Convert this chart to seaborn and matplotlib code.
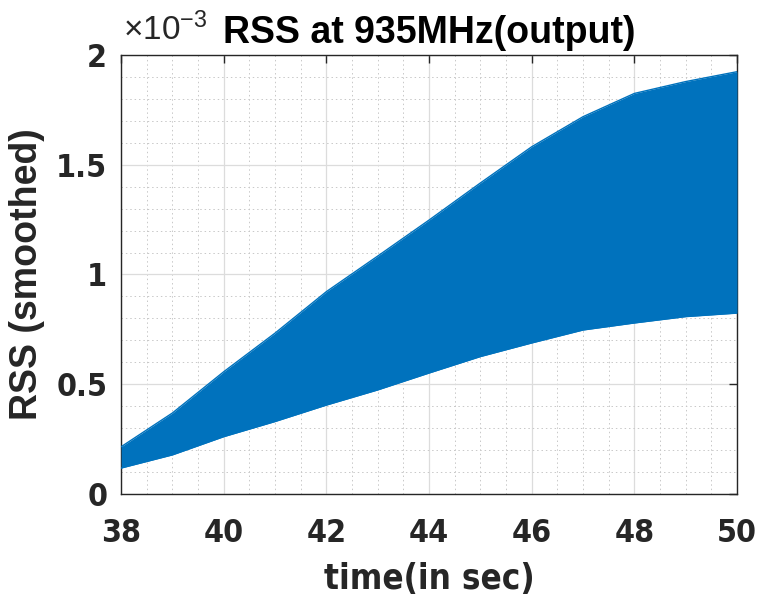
import numpy as np
import pandas as pd
import matplotlib
matplotlib.use('Agg')
import matplotlib.pyplot as plt
from matplotlib.ticker import MultipleLocator, FuncFormatter
from matplotlib.font_manager import FontProperties
import seaborn as sns

# envelope of the smoothed RSS signal (units of 1e-3)
time_s = [38, 39, 40, 41, 42, 43, 44, 45, 46, 47, 48, 49, 50]
rss_upper = [0.215, 0.369, 0.557, 0.733, 0.922, 1.084, 1.248, 1.417, 1.582, 1.719, 1.825, 1.879, 1.924]
rss_lower = [0.118, 0.178, 0.261, 0.330, 0.405, 0.474, 0.551, 0.626, 0.688, 0.747, 0.779, 0.808, 0.824]
x_ticks = [38, 40, 42, 44, 46, 48, 50]
y_ticks = [0, 0.5, 1, 1.5, 2]

blue = '#0072BD'
axis_col = '#262626'

sns.set_style('white')
plt.rcParams['font.family'] = ['Liberation Sans', 'DejaVu Sans']

df = pd.DataFrame({'t': time_s, 'hi': rss_upper, 'lo': rss_lower})

fig = plt.figure(figsize=(7.57, 5.98), dpi=100)
ax = fig.add_axes([0.160, 0.174, 0.8136, 0.734])

ax.fill_between(df['t'], df['lo'], df['hi'], color=blue, linewidth=0, zorder=3)
sns.lineplot(data=df, x='t', y='hi', color=blue, linewidth=1, ax=ax, zorder=3)
sns.lineplot(data=df, x='t', y='lo', color=blue, linewidth=1, ax=ax, zorder=3)

ax.set_xlim(38, 50)
ax.set_ylim(0, 2)
ax.set_xticks(x_ticks)
ax.set_yticks(y_ticks)
ax.xaxis.set_minor_locator(MultipleLocator(0.5))
ax.yaxis.set_minor_locator(MultipleLocator(0.1))
ax.yaxis.set_major_formatter(FuncFormatter(lambda v, p: '%g' % v))

ax.grid(True, which='major', color='#dcdcdc', linewidth=0.9, linestyle='-', zorder=0)
ax.grid(True, which='minor', color='#c8c8c8', linewidth=0.7, linestyle=(0, (1.5, 3)), zorder=0)
ax.set_axisbelow(True)

ax.tick_params(which='major', direction='in', length=6, width=1, color=axis_col,
               top=True, right=True)
ax.tick_params(axis='x', which='major', pad=17)
ax.tick_params(axis='y', which='major', pad=10)
ax.tick_params(which='minor', length=0)
for s in ax.spines.values():
    s.set_color(axis_col)
    s.set_linewidth(1)

narrow = FontProperties(family='DejaVu Sans', stretch='condensed', weight='bold', size=23)
for lab in ax.get_xticklabels() + ax.get_yticklabels():
    lab.set_fontproperties(narrow)
    lab.set_color(axis_col)

ax.set_xlabel('time(in sec)', fontproperties=FontProperties(family='DejaVu Sans', stretch='condensed',
              weight='bold', size=25), color=axis_col, labelpad=10)
ax.set_ylabel('RSS (smoothed)', fontsize=27, fontweight='bold', color=axis_col, labelpad=8)
ax.set_title('RSS at 935MHz(output)', fontsize=27, fontweight='bold', color='black', pad=9)
ax.text(0.003, 1.018, r'$\mathregular{\times10^{-3}}$', transform=ax.transAxes, fontsize=24,
        color=axis_col, ha='left', va='bottom')

fig.savefig('out.png', dpi=100)
